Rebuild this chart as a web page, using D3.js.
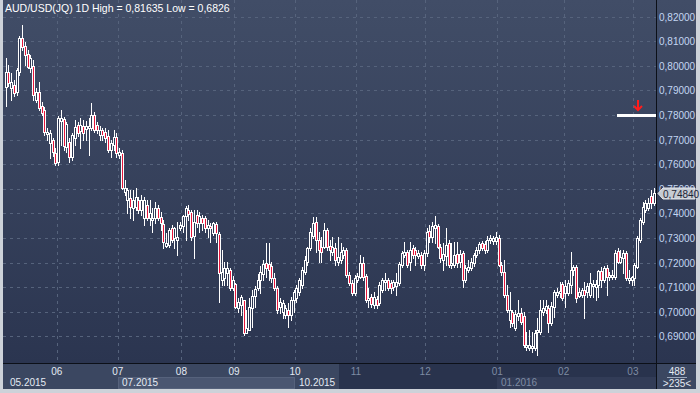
<!DOCTYPE html>
<html><head><meta charset="utf-8">
<script src="https://cdn.jsdelivr.net/npm/d3@7"></script>
<style>html,body{margin:0;padding:0;background:#d0d4da;}svg{display:block;}text{font-family:"Liberation Sans",Arial,sans-serif;}</style>
</head><body>
<svg id="c" width="700" height="393"></svg>
<script>
// ---- DATA (AUD/USD daily, 235 bars) ----
const opens = [
 .7913,.7974,.7909,.7921,.7893,.7974,.8113,.8080,.8047,.7991,.7999,.7860,.7893,.7836,.7820,.7722,.7685,.7698,.7645,
 .7608,.7775,.7783,.7669,.7690,.7628,.7706,.7759,.7734,.7755,.7742,.7746,.7746,.7799,.7759,.7718,.7738,.7730,.7714,.7657,.7677,.7710,
 .7637,.7645,.7486,.7453,.7462,.7421,.7425,.7453,.7413,.7380,.7433,.7380,.7372,.7380,.7421,.7384,.7356,.7266,.7270,.7340,.7299,.7291,.7340,
 .7348,.7388,.7413,.7405,.7307,.7392,.7360,.7380,.7380,.7340,.7348,.7319,.7356,.7315,.7128,.7136,.7157,.7169,.7096,
 .7112,.7014,.7026,.7047,.6912,.6925,.7014,.7063,.7096,.7128,.7152,.7197,.7193,.7185,.7136,.7096,.7018,.6998,.6986,.7006,.6986,.7047,
 .7055,.7079,.7108,.7161,.7201,.7258,.7307,.7364,.7291,.7262,.7262,.7331,.7266,.7242,.7258,.7201,.7209,.7230,.7250,.7148,.7116,.7075,
 .7128,.7140,.7197,.7144,.7047,.7059,.7026,.7051,.7034,.7087,.7120,.7128,.7116,.7100,.7104,.7116,.7189,.7230,.7242,.7201,.7258,.7250,.7226,.7230,.7189,
 .7238,.7327,.7303,.7340,.7348,.7262,.7209,.7226,.7279,.7189,.7189,.7234,.7201,.7238,.7128,.7169,.7177,.7197,.7230,.7250,.7279,.7274,.7250,.7291,.7287,.7287,
 .7299,.7189,.7161,.7067,.6965,.6998,.6933,.6982,.6994,.6982,.6855,.6851,.6851,.6851,.6917,.6917,.6998,.7006,.7014,.6953,.7018,.7067,.7075,.7112,
 .7075,.7075,.7108,.7169,.7181,.7063,.7067,.7087,.7079,.7067,.7104,.7100,.7108,.7165,.7128,.7177,.7140,.7140,.7140,.7246,.7201,.7218,.7238,.7128,.7128,
 .7136,.7181,.7291,.7364,.7413,.7421,.7470,.7441
];
const highs = [
 .8031,.8003,.7970,.7942,.7991,.8121,.8164,.8096,.8064,.8043,.8023,.7909,.7934,.7852,.7832,.7746,.7738,.7706,.7665,
 .7795,.7820,.7791,.7771,.7706,.7726,.7779,.7771,.7787,.7779,.7775,.7787,.7848,.7812,.7771,.7755,.7746,.7746,.7738,.7698,.7738,.7726,
 .7665,.7657,.7535,.7502,.7494,.7494,.7502,.7466,.7474,.7466,.7453,.7453,.7421,.7445,.7433,.7405,.7372,.7319,.7340,.7352,.7344,.7364,.7364,
 .7392,.7429,.7433,.7413,.7413,.7413,.7405,.7392,.7388,.7372,.7360,.7364,.7364,.7323,.7250,.7201,.7201,.7177,.7144,
 .7116,.7055,.7067,.7047,.7006,.7055,.7087,.7104,.7152,.7185,.7209,.7279,.7279,.7201,.7157,.7104,.7055,.7047,.7026,.7034,.7059,.7087,
 .7108,.7136,.7181,.7226,.7262,.7340,.7384,.7384,.7323,.7303,.7360,.7340,.7291,.7303,.7279,.7303,.7279,.7262,.7258,.7161,.7128,.7148,
 .7157,.7230,.7222,.7152,.7096,.7071,.7079,.7063,.7120,.7136,.7157,.7136,.7128,.7128,.7157,.7201,.7246,.7283,.7250,.7283,.7270,.7262,.7250,.7242,.7250,
 .7340,.7352,.7364,.7388,.7356,.7274,.7279,.7340,.7291,.7279,.7283,.7283,.7250,.7246,.7189,.7209,.7218,.7238,.7262,.7283,.7287,.7287,.7307,.7311,.7307,.7323,
 .7311,.7201,.7209,.7108,.7079,.7006,.7006,.7047,.7014,.6998,.6917,.6925,.6917,.6925,.6973,.7047,.7047,.7047,.7026,.7039,.7087,.7096,.7120,.7120,
 .7128,.7128,.7242,.7189,.7189,.7096,.7096,.7120,.7116,.7157,.7128,.7128,.7169,.7181,.7185,.7189,.7161,.7169,.7250,.7258,.7250,.7250,.7246,.7169,.7144,
 .7197,.7307,.7380,.7445,.7453,.7462,.7494,.7502
];
const lows = [
 .7836,.7917,.7860,.7877,.7881,.7962,.8064,.8003,.7991,.7974,.7860,.7852,.7820,.7799,.7718,.7698,.7624,.7633,.7596,
 .7596,.7677,.7657,.7649,.7608,.7616,.7677,.7714,.7665,.7698,.7698,.7637,.7738,.7730,.7726,.7698,.7698,.7690,.7649,.7628,.7657,.7628,
 .7624,.7498,.7474,.7401,.7380,.7372,.7413,.7401,.7392,.7352,.7372,.7352,.7323,.7360,.7372,.7331,.7258,.7262,.7262,.7283,.7258,.7230,.7331,
 .7323,.7291,.7372,.7291,.7218,.7344,.7323,.7331,.7323,.7303,.7283,.7311,.7283,.7039,.7108,.7108,.7108,.7087,.7087,
 .7014,.6998,.6986,.6904,.6912,.6925,.6937,.7018,.7087,.7075,.7128,.7140,.7128,.7120,.7087,.6994,.6994,.6973,.6973,.6937,.6965,.6998,
 .7039,.7067,.7096,.7152,.7189,.7250,.7299,.7242,.7201,.7201,.7258,.7250,.7209,.7230,.7189,.7189,.7197,.7218,.7140,.7108,.7067,.7067,
 .7120,.7136,.7128,.7039,.7018,.7018,.7014,.7014,.7026,.7079,.7087,.7087,.7075,.7087,.7067,.7108,.7181,.7222,.7181,.7169,.7218,.7189,.7218,.7177,.7169,
 .7226,.7283,.7283,.7279,.7258,.7201,.7169,.7189,.7181,.7177,.7181,.7181,.7181,.7100,.7120,.7161,.7169,.7185,.7222,.7238,.7250,.7238,.7242,.7279,.7274,.7274,
 .7185,.7148,.7059,.6998,.6937,.6941,.6925,.6965,.6949,.6855,.6843,.6843,.6835,.6843,.6826,.6908,.6986,.6994,.6917,.6945,.6977,.7059,.7059,.7047,
 .7018,.7067,.7075,.7148,.7039,.7059,.7059,.6973,.7059,.7059,.7059,.7047,.7059,.7100,.7120,.7067,.7128,.7132,.7132,.7197,.7197,.7157,.7128,.7116,.7108,
 .7108,.7177,.7283,.7356,.7405,.7413,.7421,.7433
];
const closes = [
 .7974,.7930,.7934,.7889,.7982,.8113,.8076,.8043,.7995,.8031,.7881,.7893,.7828,.7807,.7730,.7730,.7726,.7649,.7604,
 .7787,.7787,.7673,.7763,.7628,.7718,.7750,.7726,.7759,.7726,.7755,.7755,.7799,.7738,.7738,.7738,.7718,.7706,.7657,.7685,.7710,.7645,
 .7649,.7502,.7502,.7494,.7425,.7453,.7466,.7413,.7453,.7453,.7380,.7401,.7380,.7421,.7380,.7360,.7283,.7279,.7331,.7291,.7340,.7303,.7352,
 .7388,.7421,.7397,.7303,.7364,.7360,.7388,.7360,.7340,.7352,.7340,.7360,.7319,.7157,.7161,.7177,.7177,.7096,.7128,
 .7018,.7039,.7059,.6912,.6933,.7018,.7063,.7091,.7128,.7161,.7193,.7177,.7169,.7136,.7096,.7006,.7039,.7034,.7014,.6986,.7047,.7079,
 .7096,.7128,.7169,.7209,.7258,.7323,.7360,.7291,.7250,.7242,.7331,.7262,.7250,.7262,.7209,.7222,.7242,.7250,.7148,.7116,.7075,.7136,
 .7144,.7197,.7140,.7047,.7055,.7030,.7059,.7026,.7108,.7128,.7128,.7096,.7096,.7120,.7120,.7193,.7238,.7242,.7189,.7250,.7230,.7230,.7238,.7189,.7238,
 .7323,.7303,.7348,.7352,.7262,.7218,.7234,.7270,.7189,.7197,.7230,.7197,.7234,.7128,.7177,.7181,.7201,.7230,.7250,.7274,.7258,.7250,.7291,.7299,.7299,.7303,
 .7189,.7161,.7067,.7006,.7006,.6953,.6990,.6994,.6957,.6864,.6864,.6864,.6860,.6912,.6925,.7006,.7014,.7022,.6953,.7022,.7079,.7079,.7083,.7055,
 .7104,.7116,.7169,.7181,.7055,.7079,.7087,.7067,.7104,.7116,.7112,.7112,.7165,.7128,.7177,.7140,.7148,.7148,.7238,.7201,.7222,.7238,.7136,.7136,.7140,
 .7189,.7299,.7372,.7425,.7441,.7441,.7441,.7484
];
const monthLabels = ["06","07","08","09","10","11","12","01","02","03"];
const monthStartBar = [19,41,64,83,105,127,152,178,202,227];
const yearLabels = ["05.2015","07.2015","10.2015","01.2016"];
const yearStartBar = [0,41,105,178];
const priceTicks = [0.69,0.70,0.71,0.72,0.73,0.74,0.75,0.76,0.77,0.78,0.79,0.80,0.81,0.82];
const titleText = "AUD/USD(JQ) 1D High = 0,81635 Low = 0,6826";
const alertLevel = 0.78;
const lastPrice = 0.7484;
const barTotal = "488", barVisible = ">235<";

// ---- LAYOUT ----
const svg = d3.select("#c");
const L = 3, R = 656, T = 0, B = 363, AX = 696, BOT = 389;
const n = closes.length;
const x = d3.scaleLinear().domain([0, n - 1]).range([5.5, 653.7]);
const y = d3.scaleLinear().domain([0.69, 0.82]).range([336.4, 16.5]);
const fmt = v => v.toFixed(5).replace(".", ",");

const defs = svg.append("defs");
const g = defs.append("linearGradient").attr("id","bg").attr("x1",0).attr("y1",0).attr("x2",0).attr("y2",1);
g.append("stop").attr("offset","0%").attr("stop-color","#414d67");
g.append("stop").attr("offset","100%").attr("stop-color","#2b3550");

// frame
svg.append("rect").attr("width",700).attr("height",393).attr("fill","#cdd2d9");
svg.append("rect").attr("x",L).attr("y",T).attr("width",AX-L).attr("height",B-T).attr("fill","url(#bg)");

// bottom panel
svg.append("rect").attr("x",L).attr("y",B+1).attr("width",339-L).attr("height",BOT-B-1).attr("fill","#3b4761");
svg.append("rect").attr("x",339).attr("y",B+1).attr("width",R-339).attr("height",BOT-B-1).attr("fill","#29334d");
svg.append("rect").attr("x",R+1).attr("y",B+1).attr("width",AX-R-1).attr("height",BOT-B-1).attr("fill","#3b4761");

// year bands
yearLabels.forEach((lab, k) => {
  const x0 = k === 0 ? L : x(yearStartBar[k] - 0.5);
  const x1 = k < yearLabels.length - 1 ? x(yearStartBar[k+1] - 0.5) : R;
  const dim = x0 >= 339;
  if (k % 2 === 1) {
    svg.append("rect").attr("x", Math.round(x0)+0.5).attr("y", 377.5).attr("width", Math.round(x1 - x0)-1).attr("height", 11)
      .attr("fill", dim ? "#323c57" : "#4a5671").attr("stroke", dim ? "#323c57" : "#56627c");
  }
  svg.append("text").attr("x", Math.round(x0) + (k===0?7:4)).attr("y", 386).attr("font-size", 10)
    .attr("fill", dim ? "#7e8ba3" : "#e4eaf3").text(lab);
});

// grid
const grid = svg.append("g").attr("stroke","#56637c").attr("stroke-width",1).attr("stroke-dasharray","3,4").attr("shape-rendering","crispEdges");
priceTicks.forEach(v => {
  const yy = Math.round(y(v)) + 0.5;
  grid.append("line").attr("x1",L).attr("x2",R).attr("y1",yy).attr("y2",yy);
});
monthStartBar.forEach(b => {
  const xx = Math.round(x(b - 0.5)) + 0.5;
  grid.append("line").attr("x1",xx).attr("x2",xx).attr("y1",T).attr("y2",B);
});

// month labels
monthStartBar.forEach((b, k) => {
  const xx = x(b - 0.5);
  svg.append("text").attr("x", xx).attr("y", 375).attr("text-anchor","middle").attr("font-size",10)
    .attr("fill", xx >= 339 ? "#7e8ba3" : "#e4eaf3").text(monthLabels[k]);
});

// candles
const cg = svg.append("g").attr("shape-rendering","crispEdges");
for (let i = 0; i < n; i++) {
  const cx = Math.round(x(i));
  const o = opens[i], c = closes[i], h = highs[i], l = lows[i];
  const yh = Math.round(y(h)), yl = Math.round(y(l));
  cg.append("rect").attr("x", cx).attr("y", yh).attr("width", 1).attr("height", Math.max(1, yl - yh + 1)).attr("fill", "#ffffff");
  const yt = Math.round(y(Math.max(o, c))), yb = Math.round(y(Math.min(o, c)));
  const bh = Math.max(1, yb - yt + 1);
  cg.append("rect").attr("x", cx - 1).attr("y", yt).attr("width", 3).attr("height", bh).attr("fill", "#ffffff");
  if (bh > 2) {
    cg.append("rect").attr("x", cx).attr("y", yt + 1).attr("width", 1).attr("height", bh - 2)
      .attr("fill", c < o ? "#e5163b" : "#2c3651");
  }
}

// axis lines
svg.append("rect").attr("x",R).attr("y",T).attr("width",1).attr("height",BOT-T).attr("fill","#0c1018");
svg.append("rect").attr("x",L).attr("y",B).attr("width",AX-L).attr("height",1).attr("fill","#0c1018");

// price axis labels
priceTicks.forEach(v => {
  svg.append("text").attr("x", 659).attr("y", Math.round(y(v)) + 4).attr("font-size", 10)
    .attr("fill", "#c3d6f2").text(fmt(v));
});

// last price tag
const ly = Math.round(y(lastPrice)) + 0.5;
svg.append("path").attr("d", `M658,${ly} L663,${ly-5.5} L695,${ly-5.5} L695,${ly+5.5} L663,${ly+5.5} Z`)
  .attr("fill","#c5cbd3").attr("stroke","#e6e9ee").attr("stroke-width",1);
svg.append("text").attr("x", 663).attr("y", ly + 4).attr("font-size", 10).attr("fill", "#1c2436").text(fmt(lastPrice));

// alert level line + arrow
const ay = Math.round(y(alertLevel));
svg.append("rect").attr("x", 617).attr("y", ay - 1).attr("width", R - 617).attr("height", 3).attr("fill", "#ffffff");
svg.append("path").attr("d", `M638,${ay-15} L638,${ay-5} M634,${ay-9} L638,${ay-5} L642,${ay-9}`)
  .attr("stroke", "#ff1c1c").attr("stroke-width", 2).attr("fill", "none");

// title
svg.append("text").attr("x", 5).attr("y", 12).attr("font-size", 10.5).attr("fill", "#ffffff").text(titleText);

// bar counters
svg.append("text").attr("x", 677).attr("y", 375).attr("text-anchor","middle").attr("font-size",10).attr("fill","#e4eaf3").text(barTotal);
svg.append("rect").attr("x", 667).attr("y", 377).attr("width", 20).attr("height", 1).attr("fill","#9aa6ba");
svg.append("text").attr("x", 677).attr("y", 387).attr("text-anchor","middle").attr("font-size",10).attr("fill","#e4eaf3").text(barVisible);
</script>
</body></html>
